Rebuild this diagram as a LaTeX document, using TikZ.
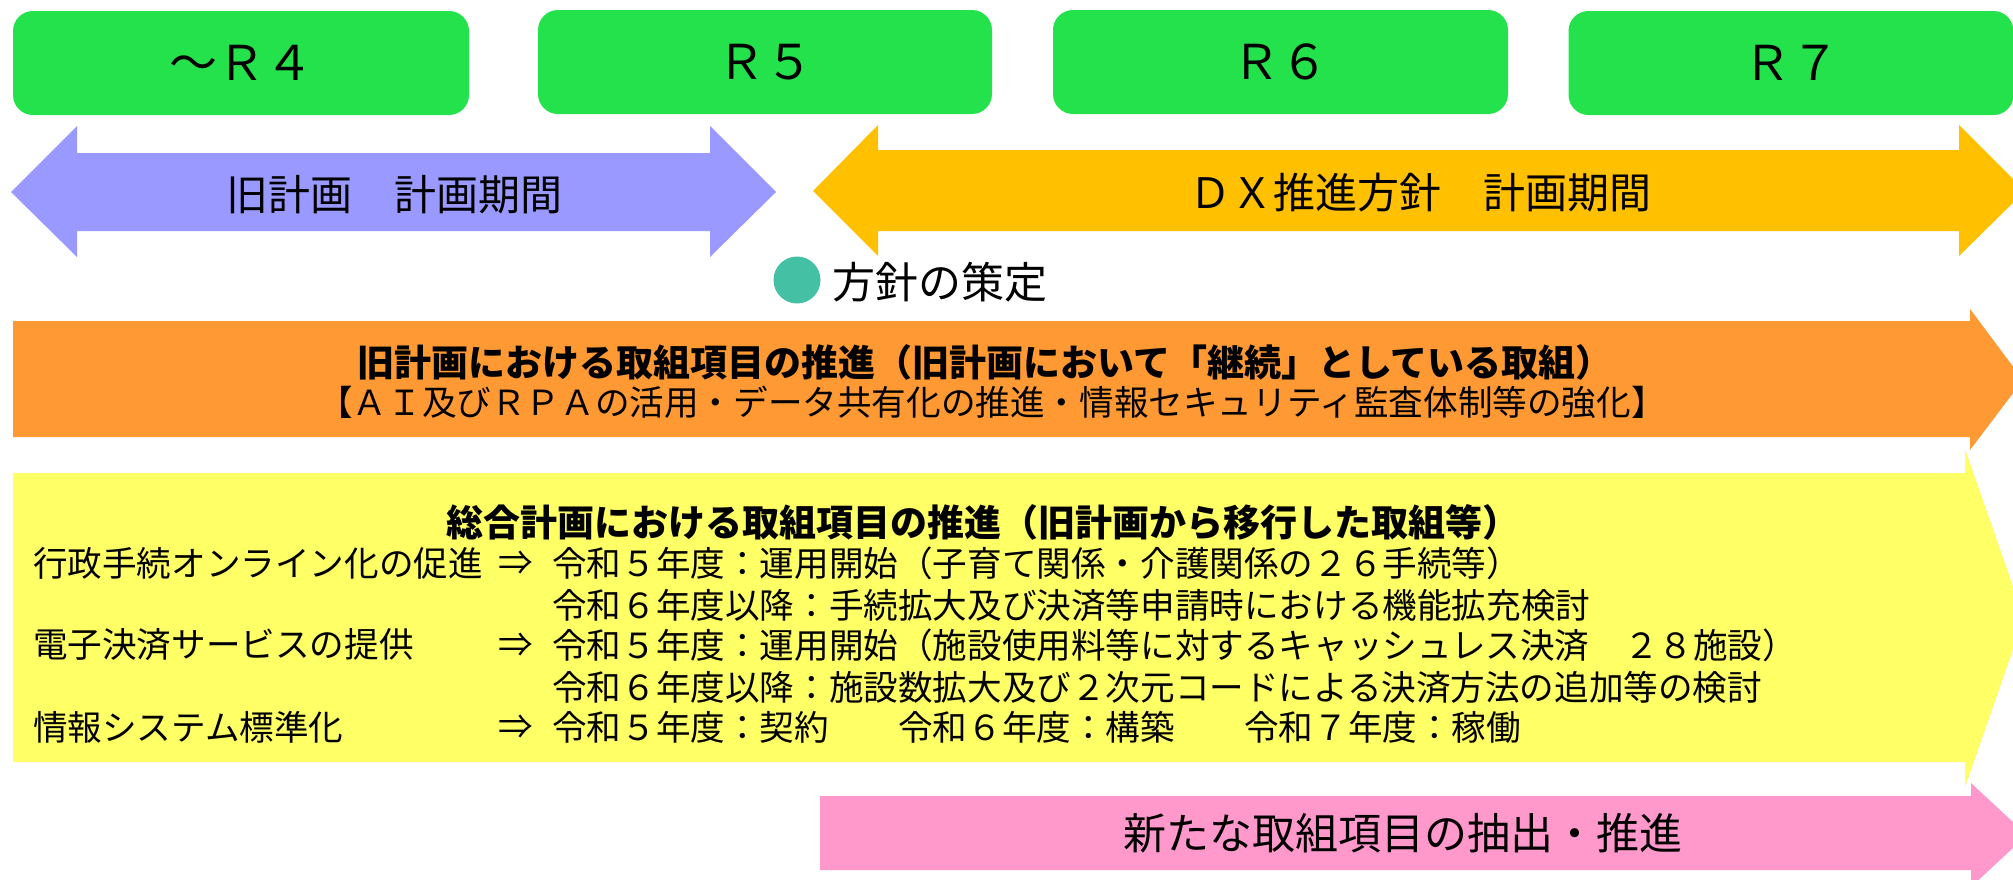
\documentclass[tikz,border=0pt]{standalone}
\usepackage{fontspec}
\setmainfont{Noto Sans CJK JP}
\definecolor{grn}{RGB}{36,226,76}
\definecolor{blu}{RGB}{153,153,255}
\definecolor{amb}{RGB}{255,192,0}
\definecolor{org}{RGB}{255,153,51}
\definecolor{ylw}{RGB}{255,255,102}
\definecolor{pnk}{RGB}{255,153,204}
\definecolor{tea}{RGB}{68,193,164}
\tikzset{
  yearbox/.style={fill=grn, rounded corners=20pt, minimum height=104pt, inner sep=0pt, font=\fontsize{48}{56}\selectfont},
  big/.style={inner sep=0pt, font=\fontsize{42}{50}\selectfont},
  head/.style={inner sep=0pt, font=\fontsize{37}{44}\selectfont\bfseries},
  body/.style={inner sep=0pt, font=\fontsize{34.6}{42}\selectfont},
}
\begin{document}
\begin{tikzpicture}[x=1pt,y=-1pt]
\useasboundingbox (0,0) rectangle (2013,879);
\clip (0,0) rectangle (2013,879);
% year boxes
\node[yearbox, minimum width=456pt] (r4) at (241,63) {～Ｒ４};
\node[yearbox, minimum width=454pt] (r5) at (765,62) {Ｒ５};
\node[yearbox, minimum width=455pt] (r6) at (1280.5,62) {Ｒ６};
\node[yearbox, minimum width=445pt] (r7) at (1791,63) {Ｒ７};
% old plan double arrow
\fill[blu] (11,192) -- (77,126) -- (77,153) -- (710,153) -- (710,126) -- (776,192) -- (710,257) -- (710,231) -- (77,231) -- (77,257) -- cycle;
\node[big] (oldplan) at (394,195) {旧計画　計画期間};
% DX double arrow
\fill[amb] (813,191) -- (878,125) -- (878,150) -- (1959,150) -- (1959,125) -- (2025,191) -- (1959,256) -- (1959,231) -- (878,231) -- (878,256) -- cycle;
\node[big] (dxplan) at (1420,193) {ＤＸ推進方針　計画期間};
% policy dot
\node[circle, fill=tea, minimum size=47pt, inner sep=0pt] (dot) at (797,280) {};
\node[big, font=\fontsize{43}{50}\selectfont, anchor=west] (policy) at (832,282) {方針の策定};
% orange arrow
\fill[org] (13,321) -- (1970,321) -- (1970,309) -- (2023,380) -- (1970,450) -- (1970,437) -- (13,437) -- cycle;
\node[head] (o1) at (985,362) {旧計画における取組項目の推進（旧計画において「継続」としている取組）};
\node[body] (o2) at (992,402) {【ＡＩ及びＲＰＡの活用・データ共有化の推進・情報セキュリティ監査体制等の強化】};
% yellow arrow
\fill[ylw] (13,473) -- (1965,473) -- (1965,449) -- (2024,618) -- (1965,787) -- (1965,762) -- (13,762) -- cycle;
\node[head] (y0) at (983,522) {総合計画における取組項目の推進（旧計画から移行した取組等）};
\node[body, anchor=west] (l1) at (33,563) {行政手続オンライン化の促進};
\node[body, anchor=west] (l3) at (33,645) {電子決済サービスの提供};
\node[body, anchor=west] (l5) at (33,727) {情報システム標準化};
\node[body] (a1) at (516,563) {⇒};
\node[body] (a3) at (516,645) {⇒};
\node[body] (a5) at (516,727) {⇒};
\node[body, anchor=west] (r1) at (552,563) {令和５年度：運用開始（子育て関係・介護関係の２６手続等）};
\node[body, anchor=west] (r2) at (552,605) {令和６年度以降：手続拡大及び決済等申請時における機能拡充検討};
\node[body, anchor=west] (r3) at (552,645) {令和５年度：運用開始（施設使用料等に対するキャッシュレス決済　２８施設）};
\node[body, anchor=west] (r4l) at (552,687) {令和６年度以降：施設数拡大及び２次元コードによる決済方法の追加等の検討};
\node[body, anchor=west] (r5l) at (552,727) {令和５年度：契約　　令和６年度：構築　　令和７年度：稼働};
% pink arrow
\fill[pnk] (820,796) -- (1971,796) -- (1971,783) -- (2027,835) -- (1971,887) -- (1971,870) -- (820,870) -- cycle;
\node[big, font=\fontsize{43}{50}\selectfont] (newitems) at (1403,833) {新たな取組項目の抽出・推進};
\end{tikzpicture}
\end{document}
